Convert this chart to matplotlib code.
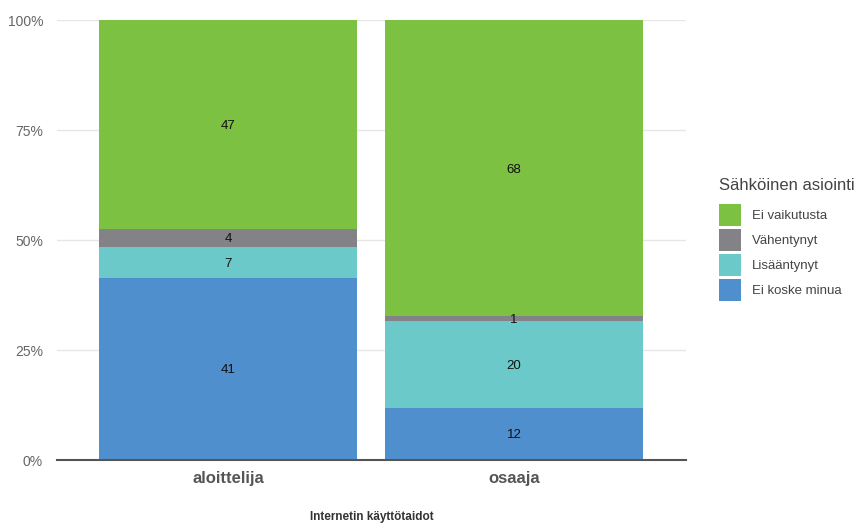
import numpy as np
import matplotlib.pyplot as plt
from matplotlib.patches import Patch

plt.rcParams["font.family"] = ["Liberation Sans", "DejaVu Sans"]

categories = ["aloittelija", "osaaja"]
series = ["Ei koske minua", "Lisääntynyt", "Vähentynyt", "Ei vaikutusta"]
counts = {
    "Ei koske minua": [41, 12],
    "Lisääntynyt": [7, 20],
    "Vähentynyt": [4, 1],
    "Ei vaikutusta": [47, 68],
}
colors = {
    "Ei koske minua": "#4f8fce",
    "Lisääntynyt": "#6bcac9",
    "Vähentynyt": "#838286",
    "Ei vaikutusta": "#7cc142",
}
yticks = [0, 25, 50, 75, 100]
ytick_labels = ["0%", "25%", "50%", "75%", "100%"]

fig = plt.figure(figsize=(8.55, 5.24), dpi=100)
ax = fig.add_axes([57 / 855, 64 / 524, 629 / 855, 440 / 524])

x = np.arange(len(categories))
totals = np.sum([counts[s] for s in series], axis=0)
bottom = np.zeros(len(categories))
for s in series:
    vals = np.array(counts[s], dtype=float)
    pct = vals / totals * 100
    ax.bar(x, pct, bottom=bottom, width=0.902, color=colors[s], zorder=2)
    for xi, b, p, v in zip(x, bottom, pct, vals):
        ax.text(xi, b + p / 2, f"{v:g}", ha="center", va="center_baseline",
                fontsize=9.5, color="#111111", zorder=3)
    bottom += pct

ax.set_xlim(-0.598, 1.601)
ax.set_ylim(0, 100)
ax.set_yticks(yticks)
ax.set_yticklabels(ytick_labels, color="#666666", fontsize=10)
ax.set_xticks(x)
ax.set_xticklabels(categories, color="#555555", fontsize=12, fontweight="bold")
ax.tick_params(axis="both", length=0)
ax.tick_params(axis="y", pad=10)
ax.tick_params(axis="x", pad=8)
ax.grid(axis="y", color="#e6e6e6", linewidth=1, zorder=0)
for side in ["top", "right", "left"]:
    ax.spines[side].set_visible(False)
ax.spines["bottom"].set_color("#555555")
ax.spines["bottom"].set_linewidth(1.5)
ax.spines["bottom"].set_zorder(4)

ax.set_xlabel("Internetin käyttötaidot", fontsize=8.5, fontweight="bold",
              color="#333333", labelpad=18)

handles = [Patch(facecolor=colors[s], edgecolor="none") for s in reversed(series)]
leg = fig.legend(handles, list(reversed(series)), title="Sähköinen asiointi",
                 loc="upper left", bbox_to_anchor=(719 / 855, 1 - 178 / 524),
                 frameon=False, fontsize=9.5, title_fontsize=12,
                 handlelength=1.67, handleheight=2.19, labelspacing=0.23,
                 handletextpad=0.8, borderaxespad=0, borderpad=0)
leg._legend_box.align = "left"
leg._legend_box.sep = 8
for t in leg.get_texts():
    t.set_color("#444444")
leg.get_title().set_color("#444444")

fig.savefig("out.png", dpi=100)
